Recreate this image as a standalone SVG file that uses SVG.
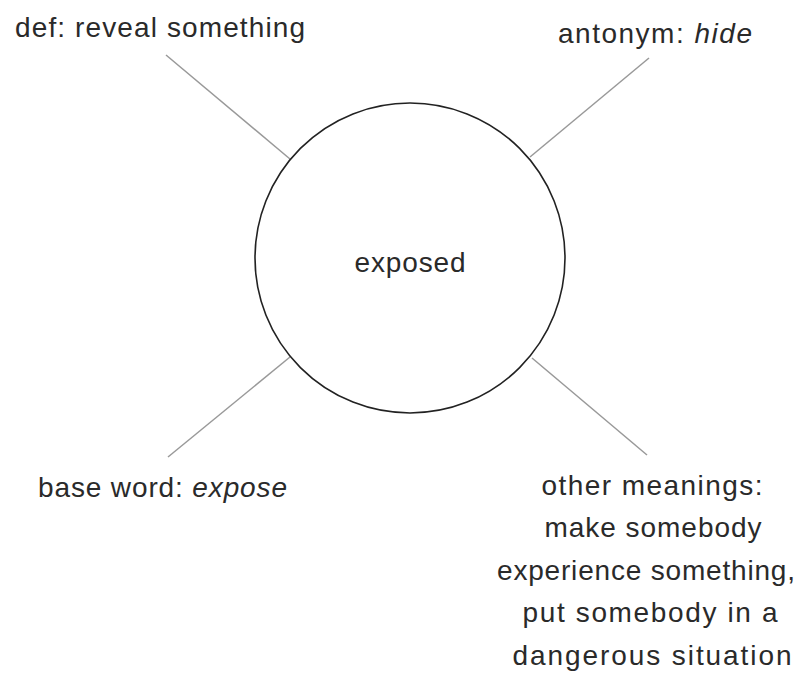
<svg xmlns="http://www.w3.org/2000/svg" width="811" height="675" viewBox="0 0 811 675">
<style>
.t{font-family:"Liberation Sans",Arial,sans-serif;font-size:28px;fill:#2a2a2a}
.m{text-anchor:middle}
.i{font-style:italic}
.c{stroke:#999;stroke-width:1.5;fill:none}
</style>
<rect width="811" height="675" fill="#fff"/>
<g id="connectors">
<line class="c" x1="166" y1="55" x2="290" y2="159"/>
<line class="c" x1="649" y1="58" x2="530" y2="157"/>
<line class="c" x1="290" y1="357" x2="168" y2="457"/>
<line class="c" x1="532" y1="358" x2="647" y2="455"/>
</g>
<g id="center">
<circle cx="410" cy="258" r="155" fill="#fff" stroke="#222" stroke-width="1.6"/>
<text class="t m" x="410" y="272" textLength="111" lengthAdjust="spacing">exposed</text>
</g>
<g id="def">
<text class="t" x="15" y="37" textLength="290" lengthAdjust="spacing">def: reveal something</text>
</g>
<g id="antonym">
<text class="t" x="558" y="43" textLength="194" lengthAdjust="spacing">antonym: <tspan class="i">hide</tspan></text>
</g>
<g id="base">
<text class="t" x="38" y="497" textLength="249" lengthAdjust="spacing">base word: <tspan class="i">expose</tspan></text>
</g>
<g id="other">
<text class="t m" x="652" y="495" textLength="221" lengthAdjust="spacing">other meanings:</text>
<text class="t m" x="653" y="537" textLength="217" lengthAdjust="spacing">make somebody</text>
<text class="t m" x="646" y="580" textLength="298" lengthAdjust="spacing">experience something,</text>
<text class="t m" x="650" y="622" textLength="255" lengthAdjust="spacing">put somebody in a</text>
<text class="t m" x="652" y="665" textLength="279" lengthAdjust="spacing">dangerous situation</text>
</g>
</svg>
